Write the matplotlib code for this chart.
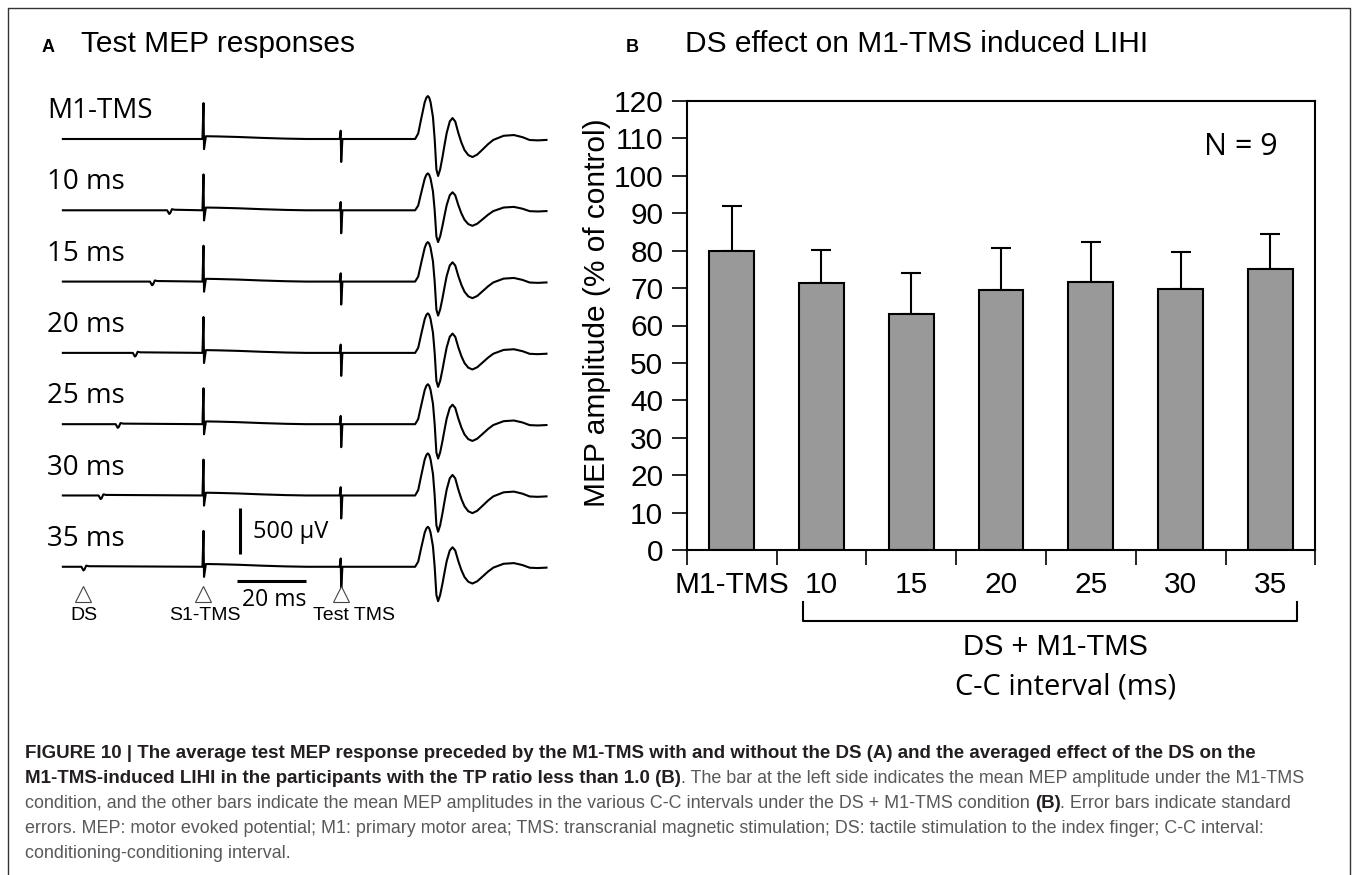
import matplotlib
matplotlib.use('Agg')
import numpy as np
import matplotlib.pyplot as plt
import matplotlib.transforms as mtransforms
from matplotlib.lines import Line2D

plt.rcParams['font.family'] = ['Liberation Sans', 'DejaVu Sans']
HUMAN = ['Open Sans', 'DejaVu Sans']

W_PX, H_PX = 1354, 875

# ---- panel A: averaged MEP traces (time in ms from S1-TMS, amplitude in uV)
trace_names = ['M1-TMS', '10 ms', '15 ms', '20 ms', '25 ms', '30 ms', '35 ms']
ds_times = [None, -10, -15, -20, -25, -30, -35]
mep_gain = [1.0, 0.86, 0.92, 0.92, 0.93, 0.98, 0.93]
rec_start = -41
s1_time = 0
test_time = 40
event_times = [-35, 0, 40]
event_names = ['DS', 'S1-TMS', 'Test TMS']

# artefact / response shapes
s1_t = [-0.3, 0.0, 0.15, 0.7, 4, 10, 17, 24, 30]
s1_v = [0, 390, -110, 30, 28, 22, 12, 4, 0]
test_t = [-0.3, 0.0, 0.15, 0.5]
test_v = [0, 90, -250, 0]
ds_t = [-0.6, 0.0, 0.3, 0.8, 1.6]
ds_v = [0, -40, -30, 12, 6]
mep_t = [61.7, 62.6, 63.4, 64.5, 65.0, 65.4, 65.8, 66.2, 66.9, 67.4, 67.9, 68.4, 69.0,
         69.7, 70.3, 70.9, 71.8, 72.6, 73.4, 74.3, 75.2, 76.1, 77.2, 78.4, 79.8, 81.2,
         83.0, 84.5, 87.5, 90.5, 93.0, 95.1, 97.5, 100]
mep_v = [0, 60, 207, 400, 450, 467, 450, 400, 239, 0, -330, -402, -330,
         -192, -60, 65, 190, 228, 190, 65, -40, -120, -175, -196, -170, -120,
         -55, -10, 35, 43, 20, -11, -15, -10]

# ---- panel B: MEP amplitude (% of control)
categories = ['M1-TMS', '10', '15', '20', '25', '30', '35']
means = [80.0, 71.4, 63.1, 69.5, 71.6, 69.8, 75.0]
sems = [12.0, 8.9, 10.8, 11.1, 10.8, 9.9, 9.4]

fig = plt.figure(figsize=(W_PX / 100, H_PX / 100), dpi=100)


def fx(px):
    return px / W_PX


def fy(px):
    return 1 - px / H_PX


# outer frame
fig.add_artist(Line2D([fx(8), fx(8), fx(1350), fx(1350)], [0, fy(8), fy(8), 0],
                      transform=fig.transFigure, color='#333333', lw=1.0))

# ---------------- panel A
spacing = 775
ax_a = fig.add_axes([fx(20), fy(640), fx(540), 570 / H_PX])
ax_a.set_xlim(-53.5, 103.94)
ax_a.set_ylim(-5446, 750)
ax_a.axis('off')

for k, name in enumerate(trace_names):
    t = [rec_start]
    v = [0]
    if ds_times[k] is not None:
        t += [ds_times[k] + d for d in ds_t]
        v += ds_v
    t += [s1_time + d for d in s1_t]
    v += s1_v
    t += [test_time + d for d in test_t]
    v += test_v
    t += mep_t
    v += [mep_gain[k] * a for a in mep_v]
    base = -k * spacing
    ax_a.plot(t, np.array(v) + base, color='black', lw=1.5, solid_joinstyle='round')
    ax_a.text(-45.6, base + 228, name, family=HUMAN, fontsize=20, ha='left', va='baseline')

y0 = -(len(trace_names) - 1) * spacing
ax_a.plot([10.6, 10.6], [y0 + 141, y0 + 641], color='black', lw=2.2, solid_capstyle='butt')
ax_a.text(14.4, y0 + 380, '500 µV', family=HUMAN, fontsize=17, ha='left', va='center')
ax_a.plot([9.8, 29.8], [y0 - 152, y0 - 152], color='black', lw=2.2, solid_capstyle='butt')
ax_a.text(20.5, y0 - 235, '20 ms', family=HUMAN, fontsize=16.5, ha='center', va='top')

ax_a.plot(event_times, [y0 - 299] * len(event_times), linestyle='none', marker='^',
          ms=12, mfc='white', mec='#444444', mew=0.8)
for et, en, off in zip(event_times, event_names, [0, 0.3, 3.8]):
    ax_a.text(et + off, y0 - 440, en, fontsize=14, ha='center', va='top')

fig.text(fx(42), fy(52), 'A', fontsize=13, fontweight='bold', va='baseline')
fig.text(fx(81), fy(52), 'Test MEP responses', fontsize=21.5, va='baseline')

# ---------------- panel B
ax_b = fig.add_axes([fx(686.7), fy(550), fx(628.6), 449 / H_PX])
x = np.arange(len(categories))
ax_b.errorbar(x, means, yerr=[np.zeros(len(x)), sems], fmt='none', ecolor='black',
              elinewidth=1.5, capsize=7.2, capthick=1.5, zorder=1)
ax_b.bar(x, means, width=0.5, color='#999999', edgecolor='black', linewidth=1.5, zorder=2)
ax_b.set_xlim(-0.5, len(x) - 0.5)
ax_b.set_ylim(0, 120)
ax_b.set_yticks(np.arange(0, 121, 10))
ax_b.set_xticks(np.arange(-0.5, len(x), 1))
ax_b.set_xticklabels([])
ax_b.set_xticks(x, categories, minor=True)
for s in ax_b.spines.values():
    s.set_linewidth(1.5)
ax_b.tick_params(axis='y', direction='out', length=10.8, width=1.2, pad=6, labelsize=21.5)
ax_b.tick_params(axis='x', which='major', direction='out', length=10.8, width=1.2)
ax_b.tick_params(axis='x', which='minor', length=0, pad=15, labelsize=21.5)
ax_b.set_ylabel('MEP amplitude (% of control)', fontsize=21.5)
ax_b.yaxis.set_label_coords(-0.120, 0.528)

ax_b.text(0.823, 0.880, 'N = 9', transform=ax_b.transAxes, family=HUMAN, fontsize=22,
          ha='left', va='baseline')

trans = mtransforms.blended_transform_factory(ax_b.transData, ax_b.transAxes)
ax_b.plot([0.8, 0.8, 6.3, 6.3], [-0.116, -0.158, -0.158, -0.116], transform=trans,
          clip_on=False, color='black', lw=1.5)
ax_b.text(3.61, -0.234, 'DS + M1-TMS', transform=trans, fontsize=21, ha='center', va='baseline')
ax_b.text(3.72, -0.321, 'C-C interval (ms)', transform=trans, family=HUMAN, fontsize=21,
          ha='center', va='baseline')

fig.text(fx(626), fy(52), 'B', fontsize=13, fontweight='bold', va='baseline')
fig.text(fx(685), fy(52), 'DS effect on M1-TMS induced LIHI', fontsize=21.5, va='baseline')

# ---------------- caption
caption = [
    [("FIGURE 10 | The average test MEP response preceded by the M1-TMS with and without "
      "the DS (A) and the averaged effect of the DS on the", True)],
    [("M1-TMS-induced LIHI in the participants with the TP ratio less than 1.0 (B)", True),
     (". The bar at the left side indicates the mean MEP amplitude under the M1-TMS", False)],
    [("condition, and the other bars indicate the mean MEP amplitudes in the various C-C "
      "intervals under the DS + M1-TMS condition ", False), ("(B)", True),
     (". Error bars indicate standard", False)],
    [("errors. MEP: motor evoked potential; M1: primary motor area; TMS: transcranial magnetic "
      "stimulation; DS: tactile stimulation to the index finger; C-C interval:", False)],
    [("conditioning-conditioning interval.", False)],
]
caption_base = [758, 783, 808, 833, 858]

renderer = fig.canvas.get_renderer()
probe = fig.text(0, 0, caption[3][0][0], fontsize=12)
reg_size = 12 * 1237 / probe.get_window_extent(renderer).width
probe.remove()
probe = fig.text(0, 0, caption[0][0][0], fontsize=12, fontweight='bold')
bold_size = 12 * 1228 / probe.get_window_extent(renderer).width
probe.remove()

for runs, yb in zip(caption, caption_base):
    xp = 25.0
    for text, bold in runs:
        t = fig.text(fx(xp), fy(yb), text, fontsize=bold_size if bold else reg_size,
                     fontweight='bold' if bold else 'normal',
                     color='#231f20' if bold else '#58595b', ha='left', va='baseline')
        xp += t.get_window_extent(renderer).width

fig.savefig('out.png', dpi=100)
